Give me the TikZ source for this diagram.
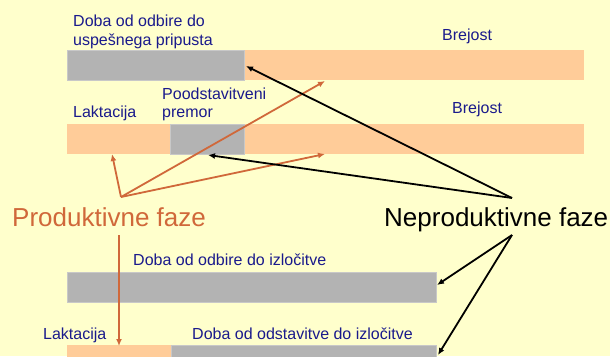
\documentclass[tikz,border=0pt]{standalone}
\usepackage{fontspec}
\setmainfont{Liberation Sans}
\usetikzlibrary{arrows.meta}
\definecolor{bg}{HTML}{FFFFCC}
\definecolor{peach}{HTML}{FFCC99}
\definecolor{greybar}{HTML}{B3B3B3}
\definecolor{greyedge}{HTML}{C8C8C8}
\definecolor{navy}{HTML}{1A1A8C}
\definecolor{rust}{HTML}{D0683A}
\tikzset{
  peachbar/.style={fill=peach, inner sep=0pt, outer sep=0pt, anchor=north west},
  greyseg/.style={fill=greybar, draw=greyedge, line width=1pt, inner sep=0pt, outer sep=0pt, anchor=north west},
  lbl/.style={text=navy, font=\fontsize{16}{18}\selectfont, inner sep=0pt, anchor=base west},
  big/.style={font=\fontsize{26}{30}\selectfont, inner sep=0pt, anchor=base west},
  prodarrow/.style={draw=rust, line width=1.8pt, -{Latex[length=7pt,width=6pt]}},
  neparrow/.style={draw=black, line width=1.8pt, -{Latex[length=7pt,width=6pt]}}
}
\begin{document}
\begin{tikzpicture}[x=1pt,y=-1pt]
\useasboundingbox (0,0) rectangle (610,356);
\fill[bg] (0,0) rectangle (610,356);
% bar 1
\node[peachbar, minimum width=517pt, minimum height=30pt] (b1) at (67,50) {};
\node[greyseg, minimum width=177pt, minimum height=30pt] (g1) at (67,50) {};
% bar 2
\node[peachbar, minimum width=517pt, minimum height=30pt] (b2) at (67,124) {};
\node[greyseg, minimum width=74pt, minimum height=30pt] (g2) at (170,124) {};
% bar 3
\node[greyseg, minimum width=369pt, minimum height=30pt] (g3) at (67,272) {};
% bar 4
\node[peachbar, minimum width=104pt, minimum height=20pt] (b4) at (67,345) {};
\node[greyseg, minimum width=265pt, minimum height=20pt] (g4) at (171,345) {};
% labels
\node[lbl] (t1) at (73,27) {Doba od odbire do};
\node[lbl] (t2) at (73,45) {uspešnega pripusta};
\node[lbl] (t3) at (442,40) {Brejost};
\node[lbl] (t4) at (73,117) {Laktacija};
\node[lbl] (t5) at (162,99) {Poodstavitveni};
\node[lbl] (t6) at (162,117) {premor};
\node[lbl] (t7) at (452,113) {Brejost};
\node[lbl] (t8) at (133,265) {Doba od odbire do izločitve};
\node[lbl] (t9) at (43,339) {Laktacija};
\node[lbl] (t10) at (192,339) {Doba od odstavitve do izločitve};
\node[big, text=rust] (prod) at (12,226) {Produktivne faze};
\node[big, text=black] (neprod) at (384,226) {Neproduktivne faze};
% connector points
\coordinate (pa) at (121,197);
\coordinate (pb) at (119,235);
\coordinate (na) at (512,198);
\coordinate (nb) at (512,235);
\coordinate (o1) at (325,81);
\coordinate (o2) at (325,154);
\coordinate (o3) at (112,154);
\coordinate (o4) at (119,346);
\coordinate (k1) at (246,66);
\coordinate (k2) at (208,155);
\coordinate (k3) at (437,285);
\coordinate (k4) at (438,355);
% productive arrows
\draw[prodarrow] (pa) -- (o3);
\draw[prodarrow] (pa) -- (o1);
\draw[prodarrow] (pa) -- (o2);
\draw[prodarrow] (pb) -- (o4);
% non-productive arrows
\draw[neparrow] (na) -- (k1);
\draw[neparrow] (na) -- (k2);
\draw[neparrow] (nb) -- (k3);
\draw[neparrow] (nb) -- (k4);
\end{tikzpicture}
\end{document}
